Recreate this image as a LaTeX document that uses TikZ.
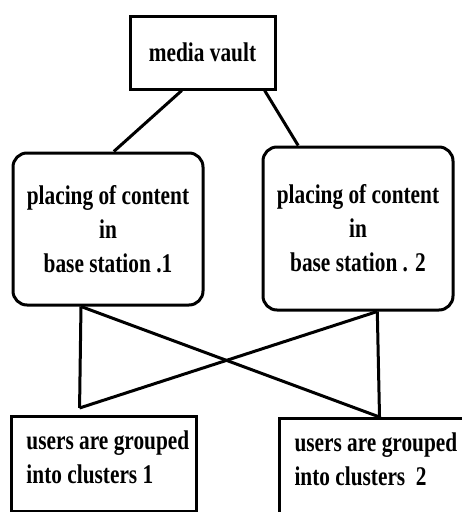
\documentclass[tikz,border=0pt]{standalone}
\usepackage{fontspec}
\setmainfont{Liberation Serif}[FakeStretch=0.79]
\usepackage{tikz}
\usetikzlibrary{calc}
\tikzstyle{vaultbox}=[draw, minimum width=145pt, minimum height=73pt, inner sep=0pt]
\tikzstyle{stationbox}=[draw, rounded corners=14pt, minimum width=190pt, align=center, inner sep=0pt]
\tikzstyle{clusterbox}=[draw, anchor=north west, inner xsep=15pt, inner ysep=14pt]
\newcommand{\clustertext}[2]{\vbox to 67pt{\hbox to 155pt{#1\hss}\hbox{#2}\vfill}}

\begin{document}
\begin{tikzpicture}[x=1pt,y=-1pt,line width=3pt,font=\bfseries\fontsize{27}{34}\selectfont]
    \useasboundingbox (0,0) rectangle (462,512);
    \node[vaultbox] (vault) at (202.5,52.5) {media vault};
    \node[stationbox, minimum height=152pt] (bs1) at (108,229) {placing of content\\in\hspace*{12pt}\\base station .1};
    \node[stationbox, minimum height=163pt] (bs2) at (358,228.5) {placing of content\\in\hspace*{28pt}\\base station . 2};
    \node[clusterbox] (uc1) at (10,415) {\clustertext{users are grouped}{into clusters 1}};
    \node[clusterbox] (uc2) at (278,417) {\clustertext{users are grouped}{into clusters\ \ 2}};
    \coordinate (j1) at ($(uc1.north west)!.37!(uc1.north east)+(0,-7)$);
    \coordinate (j2) at ($(uc2.north west)!.54!(uc2.north east)$);
    \draw ($(vault.south west)!.36!(vault.south east)$) -- ($(bs1.north west)!.53!(bs1.north east)$);
    \draw ($(vault.south west)!.92!(vault.south east)$) -- ($(bs2.north west)!.19!(bs2.north east)$);
    \draw ($(bs1.south west)!.36!(bs1.south east)$) -- (j1);
    \draw ($(bs1.south west)!.36!(bs1.south east)$) -- (j2);
    \draw ($(bs2.south west)!.6!(bs2.south east)$) -- (j2);
    \draw ($(bs2.south west)!.6!(bs2.south east)$) -- (j1);
  \end{tikzpicture}
\end{document}
